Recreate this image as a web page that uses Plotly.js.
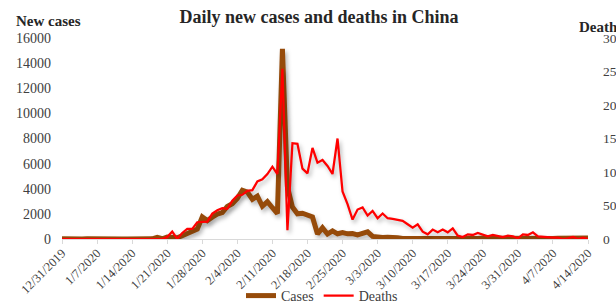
<!DOCTYPE html>
<html>
<head>
<meta charset="utf-8">
<script src="https://cdn.plot.ly/plotly-3.0.1.min.js"></script>
<style>
html,body{margin:0;padding:0;overflow:hidden;background:#fff;width:616px;height:304px}
#chart{width:630px;height:304px}
#chart .scatterlayer .js-line{filter:drop-shadow(2px 3px 2px rgba(0,0,0,0.28));}
</style>
</head>
<body>
<div id="chart"></div>
<script>
// Daily new cases in China, 12/31/2019 .. 4/14/2020
const cases = [
  27,
  0,0,17,0,15,0,0,0,0,0,
  0,0,0,0,0,0,4,17,136,19,
  151,140,97,259,441,665,787,1753,1466,1740,1980,
  2095,2590,2812,3237,3872,3727,3160,3418,2607,2974,
  2490,2028,15141,4156,2538,2007,2052,1890,1750,394,
  888,398,650,415,517,410,438,331,428,
  573,204,127,119,139,143,99,44,40,19,
  24,15,8,14,20,16,21,13,34,39,
  41,46,39,78,47,67,55,54,45,31,48,
  36,35,31,19,30,39,32,62,63,42,
  46,99,108,89
];
// Daily new deaths in China
const deaths = [
  0,
  0,0,0,0,0,0,0,0,0,0,
  1,0,0,0,0,0,0,0,1,0,
  3,11,0,9,15,15,25,25,26,38,43,
  46,45,57,65,66,72,73,86,89,97,
  108,97,254,13,143,142,105,98,136,114,
  118,109,97,150,71,52,29,44,47,
  35,42,31,38,31,30,28,27,22,17,
  22,11,7,14,10,14,10,16,5,3,
  7,6,9,7,4,6,5,3,5,4,1,
  7,6,10,4,3,2,2,2,0,1,
  3,0,2,0
];
// Tick labels shown on the x axis (weekly)
const tickLabels = [
  '12/31/2019','1/7/2020','1/14/2020','1/21/2020','1/28/2020','2/4/2020',
  '2/11/2020','2/18/2020','2/25/2020','3/3/2020','3/10/2020','3/17/2020',
  '3/24/2020','3/31/2020','4/7/2020','4/14/2020'
];
// Category labels: one per day starting 12/31/2019
const dates = [];
for (let i = 0; i < cases.length; i++) {
  const d = new Date(Date.UTC(2019, 11, 31 + i));
  dates.push((d.getUTCMonth() + 1) + '/' + d.getUTCDate() + '/' + d.getUTCFullYear());
}

const FONT = '"Liberation Serif", "Times New Roman", Times, serif';
const L = 62, R = 42, T = 38, B = 65, W = 630, H = 304;
const PW = W - L - R, PH = H - T - B;

const traces = [
  {x: dates, y: cases, type: 'scatter', mode: 'lines', name: 'Cases',
   line: {color: '#964B0A', width: 5}},
  {x: dates, y: deaths, type: 'scatter', mode: 'lines', name: 'Deaths', yaxis: 'y2',
   line: {color: '#FF0000', width: 2.25}}
];

const layout = {
  width: W, height: H,
  margin: {l: L, r: R, t: T, b: B, autoexpand: false},
  paper_bgcolor: '#ffffff', plot_bgcolor: '#ffffff',
  font: {family: FONT, size: 14, color: '#404040'},
  title: {text: '<b>Daily new cases and deaths in China</b>',
          font: {family: FONT, size: 18, color: '#262626'},
          xref: 'container', x: 319 / W, xanchor: 'center',
          yref: 'container', y: 1 - 17 / H, yanchor: 'middle'},
  xaxis: {type: 'category', range: [0, cases.length - 1],
          tickmode: 'array', tickvals: tickLabels, ticktext: tickLabels,
          tickangle: -45, tickfont: {size: 12.5, color: '#404040'},
          showgrid: false, zeroline: false, showline: true, linecolor: '#d9d9d9', linewidth: 1,
          ticks: 'outside', ticklen: 4, tickcolor: '#d9d9d9', tickwidth: 1,
          ticklabelstandoff: -3},
  yaxis: {range: [0, 16000], dtick: 2000, tick0: 0, tickformat: 'd', showgrid: false, zeroline: false,
          showline: false, ticks: '', ticklabelstandoff: 10, tickfont: {size: 14, color: '#404040'}},
  yaxis2: {overlaying: 'y', side: 'right', range: [0, 300], dtick: 50, tick0: 0, tickformat: 'd',
           showgrid: false, zeroline: false, showline: false, ticks: '', ticklabelstandoff: 14,
           tickfont: {size: 13.5, color: '#404040'}},
  legend: {orientation: 'h', x: (322 - L) / PW, xanchor: 'center',
           y: (H - B - 296) / PH, yanchor: 'middle',
           font: {family: FONT, size: 14, color: '#404040'}, bgcolor: 'rgba(0,0,0,0)'},
  showlegend: true,
  annotations: [
    {text: '<b>New cases</b>', xref: 'paper', yref: 'paper',
     x: (14 - L) / PW, y: (H - B - 21) / PH, xanchor: 'left', yanchor: 'middle',
     showarrow: false, font: {family: FONT, size: 15, color: '#262626'}},
    {text: '<b>Deaths</b>', xref: 'paper', yref: 'paper',
     x: (577 - L) / PW, y: (H - B - 27) / PH, xanchor: 'left', yanchor: 'middle',
     showarrow: false, font: {family: FONT, size: 15, color: '#262626'}}
  ]
};

Plotly.newPlot('chart', traces, layout, {displayModeBar: false, staticPlot: true});
</script>
</body>
</html>
